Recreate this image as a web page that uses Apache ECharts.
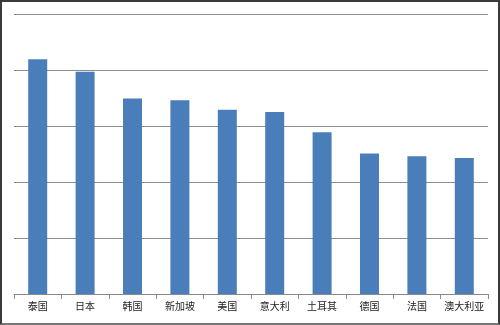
<!DOCTYPE html>
<html>
<head>
<meta charset="utf-8">
<script src="https://cdn.jsdelivr.net/npm/echarts@6/dist/echarts.min.js"></script>
<style>
html,body{margin:0;padding:0;background:#fff;}
#wrap{position:relative;width:500px;height:325px;}
#chart{position:absolute;left:0;top:0;width:500px;height:325px;}
#frame{position:absolute;left:0;top:0;width:500px;height:325px;box-sizing:border-box;border:2px solid #3a3a3a;border-bottom-color:#777;pointer-events:none;}
</style>
</head>
<body>
<div id="wrap"><div id="chart"></div><div id="frame"></div></div>
<script>
var categories = ['泰国','日本','韩国','新加坡','美国','意大利','土耳其','德国','法国','澳大利亚'];
var values = [41.9, 39.7, 34.9, 34.6, 32.9, 32.5, 28.9, 25.1, 24.6, 24.3];
var yMin = 0, yMax = 50, yInterval = 10;

var chart = echarts.init(document.getElementById('chart'), null, {renderer:'canvas'});
chart.setOption({
  animation: false,
  backgroundColor: '#fff',
  grid: {left: 14, right: 12, top: 14, bottom: 31, containLabel: false},
  xAxis: {
    type: 'category',
    data: categories,
    axisLine: {lineStyle: {color: '#8a8a8a', width: 1}},
    axisTick: {show: true, length: 5, lineStyle: {color: '#8a8a8a'}},
    axisLabel: {color: '#222', fontSize: 10, margin: 7, interval: 0,
      fontFamily: '"Noto Sans CJK SC", sans-serif'}
  },
  yAxis: {
    type: 'value', min: yMin, max: yMax, interval: yInterval,
    axisLabel: {show: false}, axisLine: {show: false}, axisTick: {show: false},
    splitLine: {lineStyle: {color: '#8c8c8c', width: 1}}
  },
  series: [{
    type: 'bar', data: values, barWidth: 19,
    itemStyle: {color: '#4a7ebb'}
  }]
});
</script>
</body>
</html>
